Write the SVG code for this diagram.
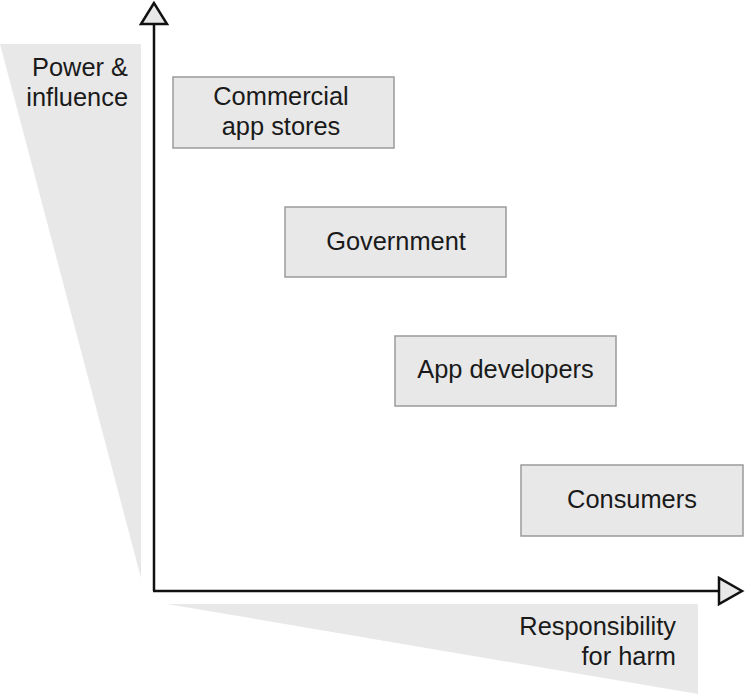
<svg xmlns="http://www.w3.org/2000/svg" width="745" height="694" viewBox="0 0 745 694">
<style>
.wedge{fill:#e8e8e8;stroke:none}
.box{fill:#e8e8e8;stroke:#9a9a9a;stroke-width:1.5}
.axis{stroke:#111;stroke-width:2.5;fill:none}
.head{fill:#e8e8e8;stroke:#111;stroke-width:2.5;stroke-linejoin:miter}
text{font-family:"Liberation Sans",Arial,sans-serif;font-size:25.4px;fill:#1a1a1a}
.c{text-anchor:middle}
.e{text-anchor:end}
</style>
<rect width="745" height="694" fill="#ffffff"/>
<g id="wedges">
<polygon class="wedge" points="0,44 141,44 141,578"/>
<polygon class="wedge" points="167,604 698,604 698,694"/>
</g>
<g id="axis-labels">
<text class="e" x="128" y="76">Power &amp;</text>
<text class="e" x="128" y="106">influence</text>
<text class="e" x="676" y="635">Responsibility</text>
<text class="e" x="676" y="665">for harm</text>
</g>
<g id="connectors">
<line class="axis" x1="154" y1="24" x2="154" y2="591"/>
<line class="axis" x1="153" y1="591" x2="718" y2="591"/>
<polygon class="head" points="154,3 141,24 167,24"/>
<polygon class="head" points="742,591 719,578 719,604"/>
</g>
<g id="commercial">
<rect class="box" x="173" y="77" width="221" height="71"/>
<text class="c" x="281" y="105">Commercial</text>
<text class="c" x="281" y="135">app stores</text>
</g>
<g id="government">
<rect class="box" x="285" y="207" width="221" height="70"/>
<text class="c" x="396" y="250">Government</text>
</g>
<g id="developers">
<rect class="box" x="395" y="336" width="221" height="70"/>
<text class="c" x="505.5" y="378">App developers</text>
</g>
<g id="consumers">
<rect class="box" x="521" y="465" width="222" height="71"/>
<text class="c" x="632" y="508">Consumers</text>
</g>
</svg>
